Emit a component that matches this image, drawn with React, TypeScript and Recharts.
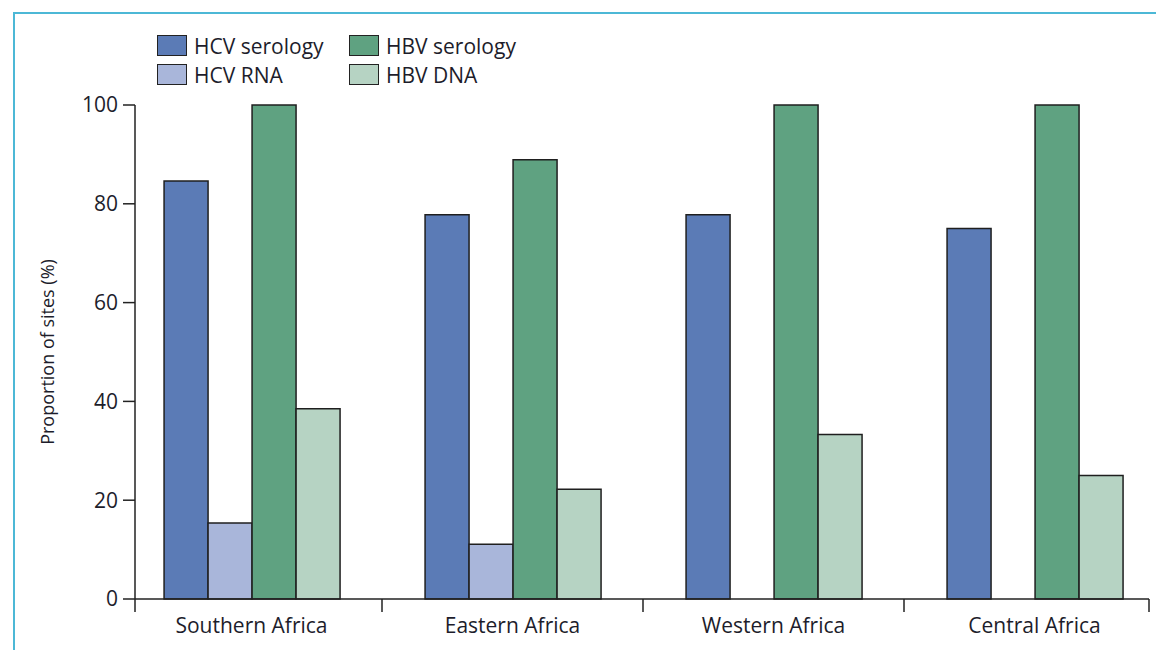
import React from "react";
import { BarChart, Bar, XAxis, YAxis } from "recharts";

const regions = ["Southern Africa", "Eastern Africa", "Western Africa", "Central Africa"];
const hcvSerology = [84.6, 77.8, 77.8, 75];
const hcvRna = [15.4, 11.1, 0, 0];
const hbvSerology = [100, 88.9, 100, 100];
const hbvDna = [38.5, 22.2, 33.3, 25];
const yTicks = [0, 20, 40, 60, 80, 100];

const series = [
  { key: "hcvSerology", name: "HCV serology", color: "#5b7bb6" },
  { key: "hcvRna", name: "HCV RNA", color: "#a9b6da" },
  { key: "hbvSerology", name: "HBV serology", color: "#5fa281" },
  { key: "hbvDna", name: "HBV DNA", color: "#b6d3c3" },
];

const data = regions.map((region, i) => ({
  region,
  hcvSerology: hcvSerology[i],
  hcvRna: hcvRna[i],
  hbvSerology: hbvSerology[i],
  hbvDna: hbvDna[i],
}));

const FONT = "'Open Sans', sans-serif";
const INK = "#1d1d2b";
const W = 1156;
const H = 650;
const MARGIN = { top: 105, right: 7, bottom: 11, left: 75 };
const Y_AXIS_W = 60;
const X_AXIS_H = 40;
const PLOT_LEFT = MARGIN.left + Y_AXIS_W;
const PLOT_RIGHT = W - MARGIN.right;

// category label with boundary tick marks instead of centred ticks
const RegionTick = (props: any) => {
  const { x, y, payload, index } = props;
  const half = payload.offset || 0;
  const left = Math.max(x - half, PLOT_LEFT);
  const right = Math.min(x + half, PLOT_RIGHT);
  return (
    <g>
      <line x1={left} y1={y} x2={left} y2={y + 13} stroke="#222" strokeWidth={1.5} />
      {index === regions.length - 1 && (
        <line x1={right} y1={y} x2={right} y2={y + 13} stroke="#222" strokeWidth={1.5} />
      )}
      <text x={x} y={y + 34} textAnchor="middle" fontSize={21} fontFamily={FONT} fill={INK}>
        {payload.value}
      </text>
    </g>
  );
};

const legendRows = [
  [series[0], series[2]],
  [series[1], series[3]],
];

export default function App() {
  return (
    <div style={{ position: "absolute", left: 0, top: 0, width: W, height: H, background: "#fff" }}>
      <div
        style={{
          position: "absolute",
          left: 13,
          top: 12,
          right: 0,
          bottom: 0,
          borderTop: "2px solid #4cb8d6",
          borderLeft: "2px solid #4cb8d6",
        }}
      />
      <div style={{ position: "absolute", left: 157, top: 31, fontFamily: FONT, fontSize: 21, color: INK }}>
        {legendRows.map((row, r) => (
          <div key={r} style={{ display: "flex", height: 29, alignItems: "center" }}>
            {row.map((s) => (
              <div key={s.key} style={{ display: "flex", alignItems: "center", width: 192 }}>
                <span
                  style={{
                    display: "inline-block",
                    width: 28,
                    height: 19,
                    background: s.color,
                    border: "1.5px solid #222",
                    marginRight: 7,
                  }}
                />
                <span>{s.name}</span>
              </div>
            ))}
          </div>
        ))}
      </div>
      <div style={{ position: "absolute", left: 0, top: 0 }}>
        <BarChart
          width={W}
          height={H}
          data={data}
          margin={MARGIN}
          barCategoryGap="16.5%"
          barGap={0}
        >
          <XAxis
            dataKey="region"
            height={X_AXIS_H}
            tickLine={false}
            tickSize={0}
            tickMargin={0}
            padding={{ left: -14, right: -16 }}
            axisLine={{ stroke: "#222", strokeWidth: 1.5 }}
            tick={<RegionTick />}
            interval={0}
          />
          <YAxis
            width={Y_AXIS_W}
            domain={[0, 100]}
            ticks={yTicks}
            tickSize={12}
            tickMargin={5}
            axisLine={{ stroke: "#222", strokeWidth: 1.5 }}
            tickLine={{ stroke: "#222", strokeWidth: 1.5 }}
            tick={{ fontSize: 21, fontFamily: FONT, fill: INK }}
            label={{
              content: (p: any) => {
                const vb = p.viewBox;
                const cx = vb.x + vb.width - 88;
                const cy = vb.y + vb.height / 2;
                return (
                  <text
                    x={cx}
                    y={cy}
                    transform={`rotate(-90, ${cx}, ${cy})`}
                    textAnchor="middle"
                    dominantBaseline="central"
                    fontSize={18}
                    fontFamily={FONT}
                    fill={INK}
                  >
                    Proportion of sites (%)
                  </text>
                );
              },
            }}
          />
          {series.map((s) => (
            <Bar
              key={s.key}
              dataKey={s.key}
              name={s.name}
              fill={s.color}
              stroke="#1f1f1f"
              strokeWidth={1.5}
              isAnimationActive={false}
            />
          ))}
        </BarChart>
      </div>
    </div>
  );
}
